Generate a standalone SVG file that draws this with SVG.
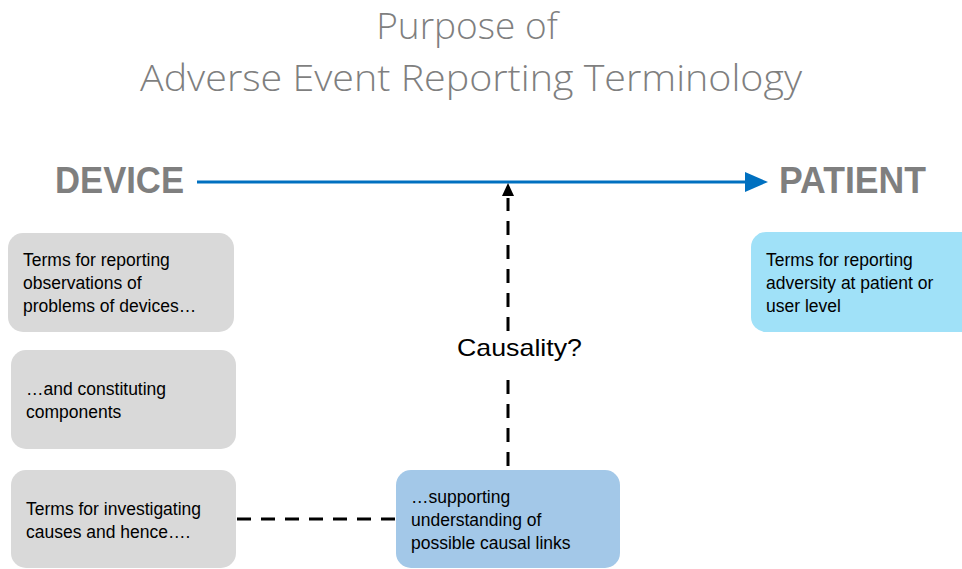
<svg xmlns="http://www.w3.org/2000/svg" width="962" height="569" viewBox="0 0 962 569">
<style>
.title{font-family:"Open Sans","Liberation Sans",sans-serif;font-weight:300;font-size:37px;fill:#7f7f7f;text-anchor:middle}
.big{font-family:"Liberation Sans",sans-serif;font-weight:bold;font-size:37px;fill:#7f7f7f}
.t{font-family:"Liberation Sans",sans-serif;font-size:17.5px;fill:#000}
.grey{fill:#d9d9d9}
.dash{stroke:#000;stroke-width:3;stroke-dasharray:14 10;fill:none}
</style>
<g id="title">
<text class="title" x="467" y="39">Purpose of</text>
<text class="title" x="471" y="91" textLength="662" lengthAdjust="spacingAndGlyphs">Adverse Event Reporting Terminology</text>
</g>
<g id="device"><text class="big" x="55" y="193" textLength="129" lengthAdjust="spacingAndGlyphs">DEVICE</text></g>
<g id="patient"><text class="big" x="779" y="193" textLength="147" lengthAdjust="spacingAndGlyphs">PATIENT</text></g>
<g id="connectors">
<line x1="197" y1="182" x2="745" y2="182" stroke="#0070c0" stroke-width="3"/>
<path d="M745,172 L768,182 L745,192 Z" fill="#0070c0"/>
<line class="dash" x1="508" y1="466" x2="508" y2="372"/>
<line class="dash" x1="508" y1="331" x2="508" y2="198"/>
<path d="M502,196 L508,183 L514,196 Z" fill="#000"/>
<line class="dash" x1="237" y1="519" x2="396" y2="519"/>
</g>
<g id="causality"><text class="t" x="457" y="356" style="font-size:24px" textLength="125" lengthAdjust="spacingAndGlyphs">Causality?</text></g>
<g id="box-observations">
<rect class="grey" x="8" y="233" width="226" height="99" rx="15"/>
<text class="t" x="23" y="266">Terms for reporting</text>
<text class="t" x="23" y="289">observations of</text>
<text class="t" x="23" y="312">problems of devices…</text>
</g>
<g id="box-components">
<rect class="grey" x="11" y="350" width="225" height="99" rx="15"/>
<text class="t" x="26" y="395">…and constituting</text>
<text class="t" x="26" y="418">components</text>
</g>
<g id="box-investigating">
<rect class="grey" x="11" y="470" width="225" height="98" rx="15"/>
<text class="t" x="26" y="515">Terms for investigating</text>
<text class="t" x="26" y="538">causes and hence….</text>
</g>
<g id="box-supporting">
<rect x="396" y="470" width="224" height="98" rx="15" fill="#a3c8e8"/>
<text class="t" x="411" y="503">…supporting</text>
<text class="t" x="411" y="526">understanding of</text>
<text class="t" x="411" y="549">possible causal links</text>
</g>
<g id="box-patient">
<rect x="751" y="232" width="230" height="100" rx="15" fill="#a0e1f8"/>
<text class="t" x="766" y="266">Terms for reporting</text>
<text class="t" x="766" y="289">adversity at patient or</text>
<text class="t" x="766" y="312">user level</text>
</g>
</svg>
